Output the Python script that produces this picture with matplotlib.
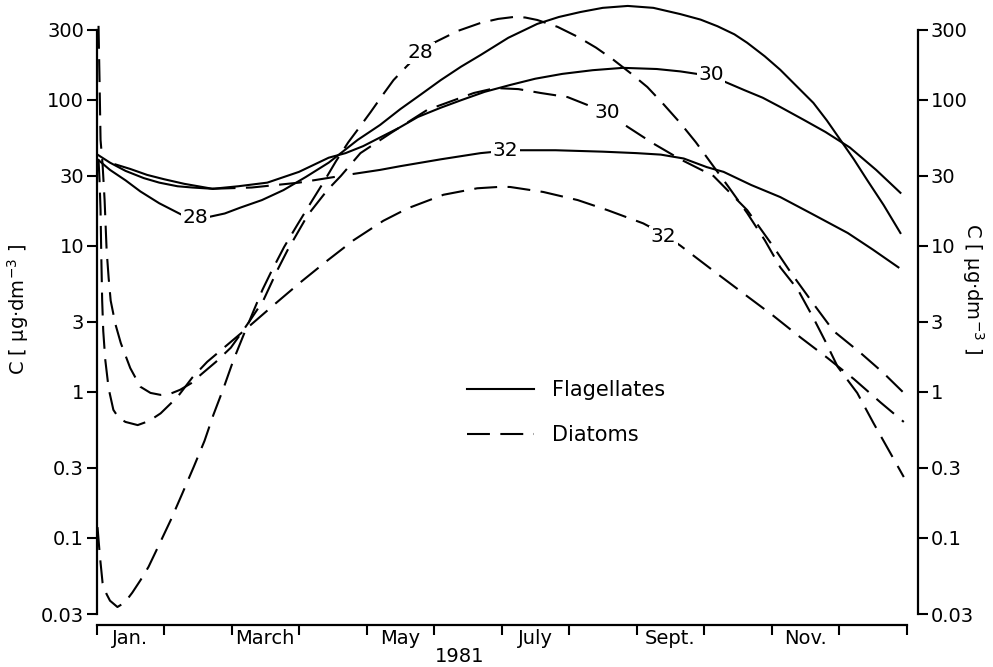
import matplotlib
matplotlib.use("Agg")
import matplotlib.pyplot as plt
from matplotlib.lines import Line2D
from matplotlib.transforms import blended_transform_factory
import numpy as np

plt.rcParams['font.family'] = ['DejaVu Sans']

# ---------------- data (months since 1 Jan 1981, concentration in ug/dm3) ----
flag28_m = [0.015, 0.2, 0.43, 0.65, 0.93, 1.27, 1.66, 1.9, 2.13, 2.45, 2.77, 3.1, 3.44,
            3.87, 4.2, 4.5, 4.8, 5.1, 5.4, 5.69, 6.1, 6.53, 6.85, 7.17, 7.5, 7.87,
            8.25, 8.65, 8.95, 9.2, 9.45, 9.64, 9.9, 10.13, 10.4, 10.62, 10.82, 11.02,
            11.22, 11.42, 11.66, 11.91]
flag28_v = [39, 33, 28, 23.5, 19.5, 16.2, 15.7, 16.6, 18.2, 20.5, 24, 29.5, 37,
            53, 67, 86, 108, 136, 168, 202, 265, 330, 368, 398, 425, 438,
            425, 385, 353, 318, 280, 245, 198, 160, 120, 95, 72, 53,
            39, 28, 19, 12.2]

flag30_m = [0.015, 0.2, 0.43, 0.7, 0.93, 1.2, 1.42, 1.72, 2.1, 2.53, 3.0, 3.44, 3.69,
            3.95, 4.2, 4.48, 4.76, 5.1, 5.4, 5.75, 6.13, 6.5, 6.9, 7.35, 7.8, 8.3,
            8.65, 8.98, 9.3, 9.6, 9.87, 10.13, 10.47, 10.8, 11.16, 11.55, 11.91]
flag30_v = [42, 37, 32.5, 29, 27, 25.5, 25, 24.5, 25.5, 27, 32, 40, 43,
            48, 55, 64, 76, 88, 99, 113, 126, 139, 150, 159, 165, 162,
            156, 148, 133, 116, 103, 89, 73, 60, 47, 33, 23]

flag32_m = [0.28, 0.5, 0.75, 1.0, 1.3, 1.72, 2.3, 3.0, 3.62, 3.81, 4.2, 4.5, 5.1,
            5.69, 6.13, 6.8, 7.5, 8.0, 8.36, 8.7, 9.04, 9.29, 9.7, 10.13, 10.6,
            11.13, 11.5, 11.88]
flag32_v = [36, 33.5, 30.5, 28.5, 26.5, 24.5, 25, 27, 30, 31, 33, 35, 39,
            43, 45, 45, 44, 43, 42, 39.5, 34.5, 32, 26, 21.5, 16.5,
            12.2, 9.4, 7.1]
flag32_dashed_span = (1.72, 3.62)   # interpolated (dashed) part of the curve

diat28_m = [0.015, 0.05, 0.09, 0.15, 0.2, 0.31, 0.42, 0.53, 0.65, 0.77, 0.93, 1.1,
            1.27, 1.44, 1.6, 1.73, 1.88, 2.03, 2.18, 2.33, 2.46, 2.58, 2.78, 2.98,
            3.17, 3.36, 3.55, 3.73, 3.9, 4.06, 4.23, 4.4, 4.6, 4.8, 4.99, 5.35,
            5.69, 5.95, 6.18, 6.35, 6.53, 6.83, 7.13, 7.4, 7.66, 7.91, 8.16, 8.4,
            8.65, 8.88, 9.1, 9.37, 9.64, 9.9, 10.13, 10.39, 10.62, 10.8, 10.98,
            11.27, 11.51, 11.76, 11.96]
diat28_v = [0.118, 0.075, 0.049, 0.041, 0.037, 0.0335, 0.036, 0.042, 0.051, 0.063, 0.09, 0.132,
            0.2, 0.305, 0.46, 0.69, 1.05, 1.65, 2.45, 3.6, 5.0, 6.5, 9.8, 14,
            19.5, 27, 38, 51, 65, 82, 106, 136, 170, 209, 244, 295,
            335, 357, 368, 365, 351, 315, 269, 227, 187, 152, 122, 93,
            69, 51, 37, 25, 16.7, 10.9, 7.1, 5.0, 3.2, 2.2, 1.48,
            0.98, 0.61, 0.38, 0.26]

diat30_m = [0.03, 0.045, 0.06, 0.09, 0.12, 0.15, 0.18, 0.21, 0.28, 0.36, 0.5, 0.65,
            0.8, 0.95, 1.1, 1.24, 1.4, 1.54, 1.77, 1.99, 2.14, 2.28, 2.47, 2.68,
            2.83, 3.13, 3.42, 3.62, 3.91, 4.36, 4.9, 5.59, 5.91, 6.25, 6.58, 6.98,
            7.27, 7.57, 7.87, 8.25, 8.65, 9.14, 9.64, 10.03, 10.28, 10.62, 10.92,
            11.32, 11.66, 11.96]
diat30_v = [320, 136, 53, 36, 20.5, 9.3, 6.0, 4.2, 2.9, 2.15, 1.45, 1.08,
            0.98, 0.95, 0.97, 1.03, 1.14, 1.30, 1.6, 2.0, 2.5, 3.1, 4.2, 6.8,
            9.3, 16.2, 24, 30, 43, 59, 85, 111, 120, 118, 111, 104,
            92, 81, 65, 50, 39, 30, 17.5, 9.8, 6.6, 4.0, 2.6,
            1.84, 1.34, 0.98]

diat32_m = [0.03, 0.045, 0.06, 0.07, 0.084, 0.1, 0.13, 0.18, 0.25, 0.33, 0.43, 0.61,
            0.78, 0.95, 1.2, 1.42, 1.64, 2.18, 2.62, 3.02, 3.42, 3.81, 4.25, 4.61,
            5.14, 5.64, 6.0, 6.13, 6.62, 7.13, 7.57, 8.1, 8.4, 8.65, 9.2, 9.64,
            10.03, 10.43, 10.83, 11.22, 11.62, 11.96]
diat32_v = [39, 28, 17.5, 9, 4.2, 2.6, 1.65, 1.05, 0.75, 0.66, 0.62, 0.59,
            0.63, 0.71, 0.92, 1.25, 1.6, 2.6, 3.9, 5.6, 7.9, 10.9, 14.8, 18.0,
            22.3, 24.7, 25.3, 25.2, 23.3, 20.5, 17.5, 14.2, 12, 10.0, 6.4, 4.5,
            3.3, 2.35, 1.7, 1.22, 0.84, 0.62]

# curve labels (month, value, text)
flag_labels = [(1.47, 15.7, "28"), (9.1, 148, "30"), (6.06, 45, "32")]
diat_labels = [(4.8, 209, "28"), (7.57, 81, "30"), (8.4, 11.5, "32")]

month_labels = ["Jan.", "March", "May", "July", "Sept.", "Nov."]
month_label_pos = [0.5, 2.5, 4.5, 6.5, 8.5, 10.5]
year_label = "1981"
ytick_vals = [0.03, 0.1, 0.3, 1, 3, 10, 30, 100, 300]
ytick_text = ["0.03", "0.1", "0.3", "1", "3", "10", "30", "100", "300"]
ylabel = "C [ µg·dm$^{-3}$ ]"

# ---------------- figure ----------------
W, H = 993, 667
fig = plt.figure(figsize=(W / 100, H / 100), dpi=100)
left_px, right_px, top_px, bot_px = 96.5, 918, 0, 614
ax = fig.add_axes([left_px / W, (H - bot_px) / H, (right_px - left_px) / W, (bot_px - top_px) / H])

ax.set_yscale('log')
ax.set_ylim(0.03, 481)
ax.set_xlim(0, (right_px - left_px) / 67.5)

LW = 1.5
DASH = (11, 5)
col = 'black'

ax.plot(flag28_m, flag28_v, color=col, lw=LW)
ax.plot(flag30_m, flag30_v, color=col, lw=LW)

fm = np.array(flag32_m)
fv = np.array(flag32_v)
a, b = flag32_dashed_span
ax.plot(fm[fm <= a], fv[fm <= a], color=col, lw=LW)
mask = (fm >= a) & (fm <= b)
ax.plot(fm[mask], fv[mask], color=col, lw=LW, dashes=DASH)
ax.plot(fm[fm > b], fv[fm > b], color=col, lw=LW)

for m, v in [(diat28_m, diat28_v), (diat30_m, diat30_v), (diat32_m, diat32_v)]:
    ax.plot(m, v, color=col, lw=LW, dashes=DASH, dash_capstyle='butt')

for x, y, t in flag_labels + diat_labels:
    ax.text(x, y, t, ha='center', va='center', fontsize=14.5, zorder=5,
            bbox=dict(facecolor='white', edgecolor='none', pad=1.0))

# axes styling
ax.spines['top'].set_visible(False)
for s in ['left', 'right', 'bottom']:
    ax.spines[s].set_linewidth(1.6)
ax.spines['left'].set_bounds(0.03, 300)
ax.spines['right'].set_bounds(0.03, 300)
ax.spines['bottom'].set_position(('outward', 8))
ax.spines['bottom'].set_bounds(0, 12)

ax.set_yticks(ytick_vals)
ax.set_yticklabels(ytick_text)
ax.yaxis.set_minor_locator(matplotlib.ticker.NullLocator())
ax.tick_params(axis='y', which='major', left=True, right=True, labelleft=True,
               labelright=True, direction='out', length=7, width=1.5,
               labelsize=14, pad=2)

ax.set_xticks(range(13))
ax.set_xticklabels([])
ax.set_xticks(month_label_pos, minor=True)
ax.set_xticklabels(month_labels, minor=True)
ax.tick_params(axis='x', which='major', direction='out', length=7, width=1.5)
ax.tick_params(axis='x', which='minor', length=0, labelsize=14, pad=3)

trans = blended_transform_factory(ax.transData, fig.transFigure)
ax.text(5.38, 1 - 657 / H, year_label, transform=trans, ha='center', va='center', fontsize=14)

fig.text(18 / W, 1 - 310 / H, ylabel, rotation=90, ha='center', va='center', fontsize=14)
fig.text(973 / W, 1 - 288 / H, ylabel, rotation=270, ha='center', va='center', fontsize=14)

handles = [Line2D([], [], color=col, lw=LW),
           Line2D([], [], color=col, lw=LW, dashes=DASH)]
ax.legend(handles, ["Flagellates", "Diatoms"], loc='upper left',
          bbox_to_anchor=(467 / W, 1 - 380 / H), bbox_transform=fig.transFigure,
          frameon=False, fontsize=15, handlelength=3.2, handletextpad=0.9,
          labelspacing=1.2, borderpad=0, borderaxespad=0)

fig.savefig("out.png", dpi=100)
